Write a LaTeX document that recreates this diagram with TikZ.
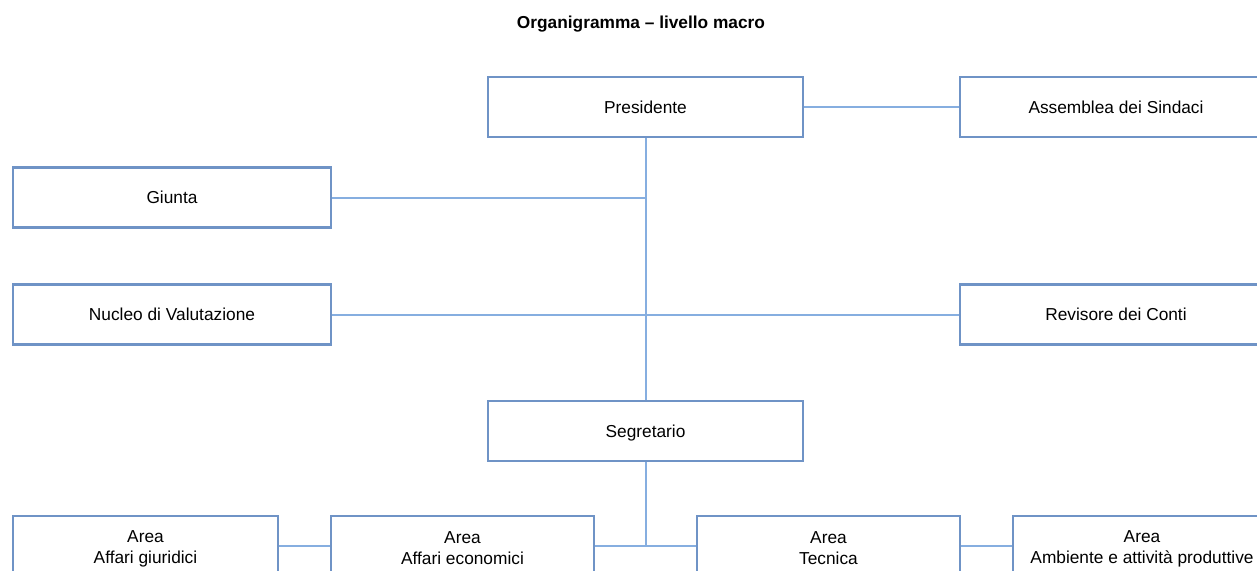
\documentclass[tikz,border=0pt]{standalone}
\usepackage{fontspec}
\setmainfont{Liberation Sans}
\usetikzlibrary{backgrounds}
\definecolor{boxc}{HTML}{6F93C6}
\definecolor{linec}{HTML}{86AEE0}
\newcommand\lnstrut{\rule[-2pt]{0pt}{19pt}}
\begin{document}
\begin{tikzpicture}[x=1pt,y=-1pt,
  box/.style={draw=boxc,line width=2.4pt,fill=white,minimum width=#1,minimum height=60pt,inner sep=0pt,align=center,font=\fontsize{17.3}{21}\selectfont},
  box/.default=315pt,
  one/.style={text height=16.4pt,text depth=4pt},
  conn/.style={draw=linec,line width=2pt}]
\useasboundingbox (0,0) rectangle (1257,570);
\clip (0,0) rectangle (1257,570);
\node[font=\fontsize{17.3}{21}\selectfont\bfseries] (title) at (641,24) {Organigramma – livello macro};
% nodes
\node[box,one] (pres) at (645.5,107) {Presidente};
\node[box=312pt,one] (ass) at (1116,107) {Assemblea dei Sindaci};
\node[box=318pt,one] (giu) at (172,197.5) {Giunta};
\node[box=318pt,one] (nuc) at (172,314.5) {Nucleo di Valutazione};
\node[box=312pt,one] (rev) at (1116,314.5) {Revisore dei Conti};
\node[box,one] (seg) at (645.5,431) {Segretario};
\node[box=265pt] (ag) at (145.5,546) {\lnstrut Area\\\lnstrut Affari giuridici};
\node[box=263pt] (ae) at (462.5,546) {\lnstrut Area\\\lnstrut Affari economici};
\node[box=263pt] (at) at (828.5,546) {\lnstrut Area\\\lnstrut Tecnica};
\node[box=258pt] (aa) at (1142,546) {\lnstrut Area\\\lnstrut Ambiente e attività produttive};
\coordinate (j1) at (pres.south |- giu.east);
\coordinate (j3) at (pres.south |- ae.east);
% connectors
\begin{scope}[on background layer]
\draw[conn] (pres.south) -- (seg.north);
\draw[conn] (pres.east) -- (ass.west);
\draw[conn] (giu.east) -- (j1);
\draw[conn] (nuc.east) -- (rev.west);
\draw[conn] (seg.south) -- (j3);
\draw[conn] (ae.east) -- (at.west);
\draw[conn] (ag.east) -- (ae.west);
\draw[conn] (at.east) -- (aa.west);
\end{scope}
\end{tikzpicture}
\end{document}
